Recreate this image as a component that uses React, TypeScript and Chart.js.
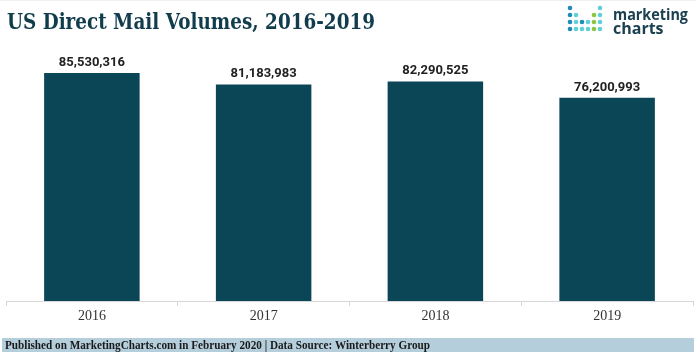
import React, { useEffect, useRef } from "react";
import { Chart, registerables } from "chart.js";

Chart.register(...registerables);

const TITLE = "US Direct Mail Volumes, 2016-2019";
const FOOTER = "Published on MarketingCharts.com in February 2020 | Data Source: Winterberry Group";
const years = ["2016", "2017", "2018", "2019"];
const volumes = [85530316, 81183983, 82290525, 76200993];
const Y_MAX = 90000000;

const BAR_COLOR = "#0b4657";
const TITLE_COLOR = "#103c4c";

// logo dot grid: 0 none, 1 blue, 2 cyan, 3 green
const logoRows = [
  [1, 0, 0, 0, 0, 2],
  [1, 2, 0, 0, 3, 2],
  [1, 2, 1, 2, 3, 2],
  [1, 2, 2, 2, 3, 2],
];
const logoColors = ["", "#1f8bb8", "#5fd0d6", "#8cc63e"];

const decorPlugin = {
  id: "decor",
  beforeDraw(chart: any) {
    const ctx = chart.ctx;
    ctx.save();
    ctx.fillStyle = "#ffffff";
    ctx.fillRect(0, 0, chart.width, chart.height);
    ctx.fillStyle = "#eef0f0";
    ctx.fillRect(0, 0, chart.width, 1);
    ctx.restore();
  },
  afterDraw(chart: any) {
    const ctx = chart.ctx;
    ctx.save();
    // title
    ctx.fillStyle = TITLE_COLOR;
    ctx.font = 'bold 23px "DejaVu Serif"';
    ctx.textAlign = "left";
    ctx.textBaseline = "alphabetic";
    ctx.fillText(TITLE, 7, 29, 368);

    // logo dots
    logoRows.forEach((row, r) => {
      row.forEach((c, k) => {
        if (!c) return;
        ctx.fillStyle = logoColors[c];
        ctx.beginPath();
        ctx.arc(570 + k * 6, 8 + r * 7, 2.3, 0, Math.PI * 2);
        ctx.fill();
      });
    });
    ctx.fillStyle = "#1b4050";
    ctx.font = 'bold 16px "Open Sans"';
    ctx.fillText("marketing", 613, 20, 75);
    ctx.fillText("charts", 613, 34);

    // data labels
    const meta = chart.getDatasetMeta(0);
    ctx.fillStyle = "#222222";
    ctx.font = 'bold 13px Roboto';
    ctx.textAlign = "center";
    ctx.textBaseline = "bottom";
    meta.data.forEach((bar: any, i: number) => {
      ctx.fillText(volumes[i].toLocaleString("en-US"), bar.x, bar.y - 4);
    });

    // footer
    ctx.fillStyle = "#b5cedb";
    ctx.fillRect(2, 338, 692, 14);
    ctx.fillStyle = "#1a1a1a";
    ctx.font = 'bold 12px "Liberation Serif"';
    ctx.textAlign = "left";
    ctx.textBaseline = "middle";
    ctx.fillText(FOOTER, 5, 345.5, 425);
    ctx.restore();
  },
};

export default function App() {
  const ref = useRef<HTMLCanvasElement>(null);
  useEffect(() => {
    document.body.style.margin = "0";
    const chart = new Chart(ref.current!, {
      type: "bar",
      data: {
        labels: years,
        datasets: [
          {
            data: volumes,
            backgroundColor: BAR_COLOR,
            borderWidth: 0,
            barPercentage: 0.556,
            categoryPercentage: 1,
          },
        ],
      },
      options: {
        animation: false,
        responsive: false,
        devicePixelRatio: 1,
        layout: { padding: { left: 6, right: 3, top: 61, bottom: 0 } },
        plugins: { legend: { display: false }, tooltip: { enabled: false }, title: { display: false } },
        scales: {
          x: {
            offset: true,
            afterFit: (s: any) => {
              s.height = 51;
            },
            grid: {
              display: true,
              offset: true,
              drawOnChartArea: false,
              drawTicks: true,
              tickLength: 5,
              color: "#d6d6d6",
            },
            border: { display: true, color: "#d6d6d6", dash: [2, 2] },
            ticks: {
              padding: 2,
              color: "#333333",
              font: { family: '"Liberation Serif"', size: 14 },
            },
          },
          y: {
            display: false,
            min: 0,
            max: Y_MAX,
          },
        },
      },
      plugins: [decorPlugin],
    });
    return () => chart.destroy();
  }, []);
  return (
    <canvas ref={ref} width={696} height={352} style={{ display: "block", width: 696, height: 352 }} />
  );
}
